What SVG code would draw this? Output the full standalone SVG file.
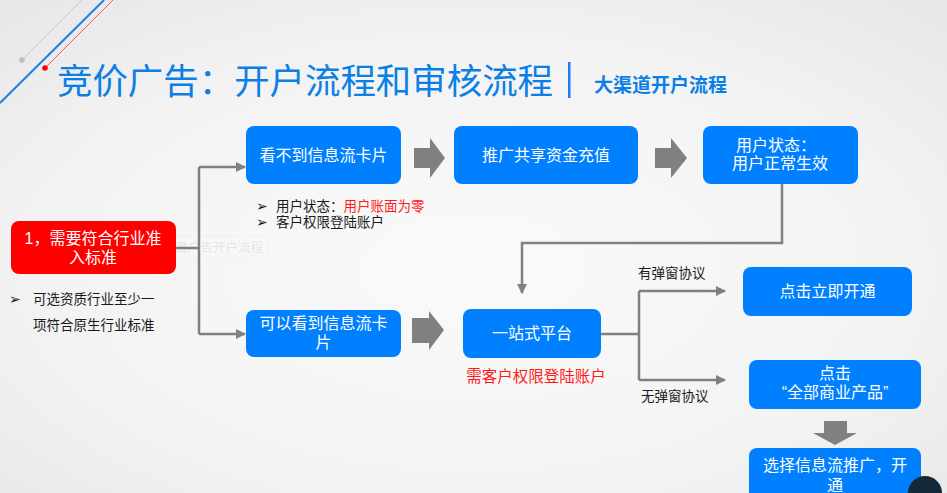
<svg xmlns="http://www.w3.org/2000/svg" width="947" height="493" viewBox="0 0 947 493">
<defs>
<radialGradient id="bg" cx="0.5" cy="0.55" r="0.75">
<stop offset="0" stop-color="#FAFAFA"/>
<stop offset="0.6" stop-color="#F3F3F3"/>
<stop offset="1" stop-color="#E6E6E6"/>
</radialGradient>
<marker id="ah" markerWidth="10" markerHeight="10" refX="9" refY="5" orient="auto" markerUnits="userSpaceOnUse">
<path d="M0,0 L10,5 L0,10 Z" fill="#808080"/>
</marker>
<style>
.node{fill:#0080FF;}
.nt{fill:#FFFFFF;font-family:"Liberation Sans","Noto Sans CJK SC",sans-serif;font-size:16px;text-anchor:middle;}
.line{fill:none;stroke:#808080;stroke-width:2.5;}
.fat{fill:#808080;}
.small{font-family:"Liberation Sans","Noto Sans CJK SC",sans-serif;font-size:13.5px;fill:#1A1A1A;}
.red{fill:#FF1A1A;}
</style>
</defs>
<rect width="947" height="493" fill="url(#bg)"/>
<g id="decor">
<line x1="0" y1="103" x2="104" y2="0" stroke="#1E7FE8" stroke-width="2"/>
<line x1="45" y1="68" x2="113" y2="0" stroke="#FF3030" stroke-width="0.8"/>
<circle cx="45" cy="68" r="2.8" fill="#FF0000"/>
<line x1="22" y1="60" x2="82" y2="0" stroke="#C4C4C4" stroke-width="0.8"/>
<circle cx="22" cy="60" r="2.8" fill="#BDBDBD"/>
</g>
<g id="title">
<text x="57" y="94" font-family="Liberation Sans,'Noto Sans CJK SC',sans-serif" font-size="35.5" fill="#0B7FE6" textLength="496" lengthAdjust="spacingAndGlyphs">竞价广告：开户流程和审核流程</text>
<rect x="568" y="62" width="2.5" height="36" fill="#1E7FE8"/>
<text x="594" y="92" font-family="Liberation Sans,'Noto Sans CJK SC',sans-serif" font-size="19" font-weight="bold" fill="#0B7FE6">大渠道开户流程</text>
</g>
<g id="watermark" opacity="0.3">
<rect x="159" y="237" width="108" height="19" fill="#FFFFFF" stroke="#E8E8E8"/>
<text x="213" y="252" font-family="Liberation Sans,'Noto Sans CJK SC',sans-serif" font-size="12.5" fill="#BBBBBB" text-anchor="middle">百度广告开户流程</text>
</g>
<g id="connectors">
<path class="line" d="M176,248 H199 M199,167 V334 M199,167 H245" marker-end="url(#ah)"/>
<path class="line" d="M199,334 H245" marker-end="url(#ah)"/>
<path class="line" d="M782,184 V243 H522 V293" marker-end="url(#ah)"/>
<path class="line" d="M601,334 H639 M639,291 V380 M639,291 H725" marker-end="url(#ah)"/>
<path class="line" d="M639,380 H725" marker-end="url(#ah)"/>
<polygon class="fat" points="414,148 430,148 430,138 445,158 430,178 430,168 414,168"/>
<polygon class="fat" points="655,148 671,148 671,138 687,158 671,178 671,168 655,168"/>
<polygon class="fat" points="412,318 429,318 429,311 444,330 429,350 429,343 412,343"/>
<polygon class="fat" points="824,421 847,421 847,433 857,433 835,445 813,433 824,433"/>
</g>
<g id="n-red">
<rect x="11" y="221" width="165" height="53" rx="8" fill="#FF0000"/>
<text class="nt" x="93" y="244">1，需要符合行业准</text>
<text class="nt" x="93" y="263">入标准</text>
</g>
<g id="n-left-note">
<text class="small" x="9" y="304" font-size="11">➢</text>
<text class="small" x="33" y="304">可选资质行业至少一</text>
<text class="small" x="33" y="330">项符合原生行业标准</text>
</g>
<g id="n1">
<rect class="node" x="246" y="126" width="155" height="58" rx="8"/>
<text class="nt" x="323.5" y="161">看不到信息流卡片</text>
</g>
<g id="n1-note">
<text class="small" x="256" y="211" font-size="11">➢</text>
<text class="small" x="276" y="211">用户状态：<tspan class="red">用户账面为零</tspan></text>
<text class="small" x="256" y="227" font-size="11">➢</text>
<text class="small" x="276" y="227">客户权限登陆账户</text>
</g>
<g id="n2">
<rect class="node" x="454" y="126" width="184" height="58" rx="8"/>
<text class="nt" x="546" y="161">推广共享资金充值</text>
</g>
<g id="n3">
<rect class="node" x="703" y="126" width="155" height="58" rx="8"/>
<text class="nt" x="776" y="151">用户状态：</text>
<text class="nt" x="780" y="169">用户正常生效</text>
</g>
<g id="n4">
<rect class="node" x="246" y="310" width="155" height="47" rx="8"/>
<text class="nt" x="323.5" y="329">可以看到信息流卡</text>
<text class="nt" x="323.5" y="348">片</text>
</g>
<g id="n5">
<rect class="node" x="463" y="309" width="138" height="49" rx="8"/>
<text class="nt" x="532" y="339">一站式平台</text>
<text x="536" y="382" font-family="Liberation Sans,'Noto Sans CJK SC',sans-serif" font-size="15.5" fill="#FF1A1A" text-anchor="middle">需客户权限登陆账户</text>
</g>
<g id="labels">
<text class="small" x="638" y="278">有弹窗协议</text>
<text class="small" x="641" y="401">无弹窗协议</text>
</g>
<g id="n6">
<rect class="node" x="743" y="267" width="169" height="49" rx="8"/>
<text class="nt" x="827.5" y="297">点击立即开通</text>
</g>
<g id="n7">
<rect class="node" x="749" y="360" width="172" height="49" rx="8"/>
<text class="nt" x="835" y="379">点击</text>
<text class="nt" x="835" y="398">“全部商业产品”</text>
</g>
<g id="n8">
<rect class="node" x="749" y="448" width="172" height="60" rx="8"/>
<text class="nt" x="835" y="471">选择信息流推广，开</text>
<text class="nt" x="835" y="491">通</text>
</g>
<g id="overlay">
<circle cx="925" cy="493" r="17" fill="#15283A"/>
</g>
</svg>
